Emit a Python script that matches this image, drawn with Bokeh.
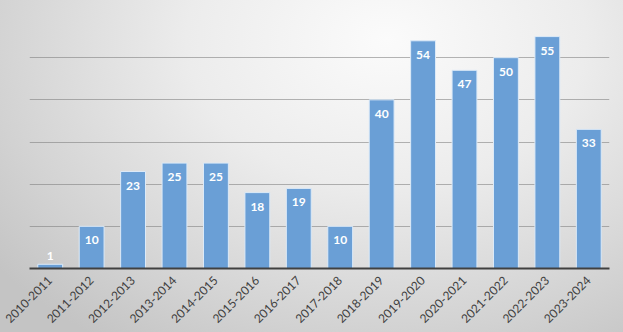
import math
from bokeh.plotting import figure
from bokeh.layouts import column
from bokeh.models import ColumnDataSource, Range1d, SingleIntervalTicker, FixedTicker
from bokeh.core.properties import value
from bokeh.embed import file_html
from bokeh.resources import INLINE

seasons = ["2010-2011", "2011-2012", "2012-2013", "2013-2014", "2014-2015",
           "2015-2016", "2016-2017", "2017-2018", "2018-2019", "2019-2020",
           "2020-2021", "2021-2022", "2022-2023", "2023-2024"]
counts = [1, 10, 23, 25, 25, 18, 19, 10, 40, 54, 47, 50, 55, 33]
labels = [str(v) for v in counts]

Y_MAX = 60
FRAME_H = 253
px_per_unit = FRAME_H / Y_MAX
# labels sit inside the bar top unless the bar is too short
offsets = [14 if v * px_per_unit > 22 else -8 for v in counts]
# category slot centres on a numeric axis
xpos = [i + 0.5 for i in range(len(seasons))]

src = ColumnDataSource(dict(x=xpos, top=counts, label=labels, off=offsets))

p = figure(width=623, height=332, x_range=Range1d(0, len(seasons)),
           y_range=Range1d(0, Y_MAX), output_backend="svg", toolbar_location=None,
           min_border_left=29, min_border_right=14, min_border_top=15, min_border_bottom=64)

p.background_fill_color = None
p.border_fill_color = None
p.outline_line_color = None

p.vbar(x="x", top="top", width=0.6, source=src, fill_color="#6a9fd6",
       line_color="#dceaf8", line_width=1)

p.text(x="x", y="top", text="label", source=src, y_offset="off",
       text_align="center", text_baseline="middle", text_color="white",
       text_font=value("Lato"), text_font_style="bold", text_font_size="12px")

p.yaxis.visible = False
p.ygrid.ticker = SingleIntervalTicker(interval=10)
p.ygrid.grid_line_color = "#7a7a7a"
p.ygrid.grid_line_alpha = 0.55
p.xgrid.grid_line_color = None

ax = p.xaxis[0]
ax.ticker = FixedTicker(ticks=xpos)
ax.major_label_overrides = {x: s for x, s in zip(xpos, seasons)}
ax.axis_line_color = "#404040"
ax.axis_line_width = 2
ax.major_tick_line_color = None
ax.minor_tick_line_color = None
ax.major_label_orientation = math.pi / 4
ax.major_label_text_font = "Lato"
ax.major_label_text_font_size = "12px"
ax.major_label_text_color = "#404040"
ax.major_label_standoff = 4

layout = column(p)
layout.styles = {"background": "radial-gradient(ellipse 80% 110% at 62% 12%, #fbfbfb 0%, #ececec 40%, #d2d2d2 80%, #c4c4c4 100%)"}

open("out.html", "w").write(file_html(layout, INLINE))
